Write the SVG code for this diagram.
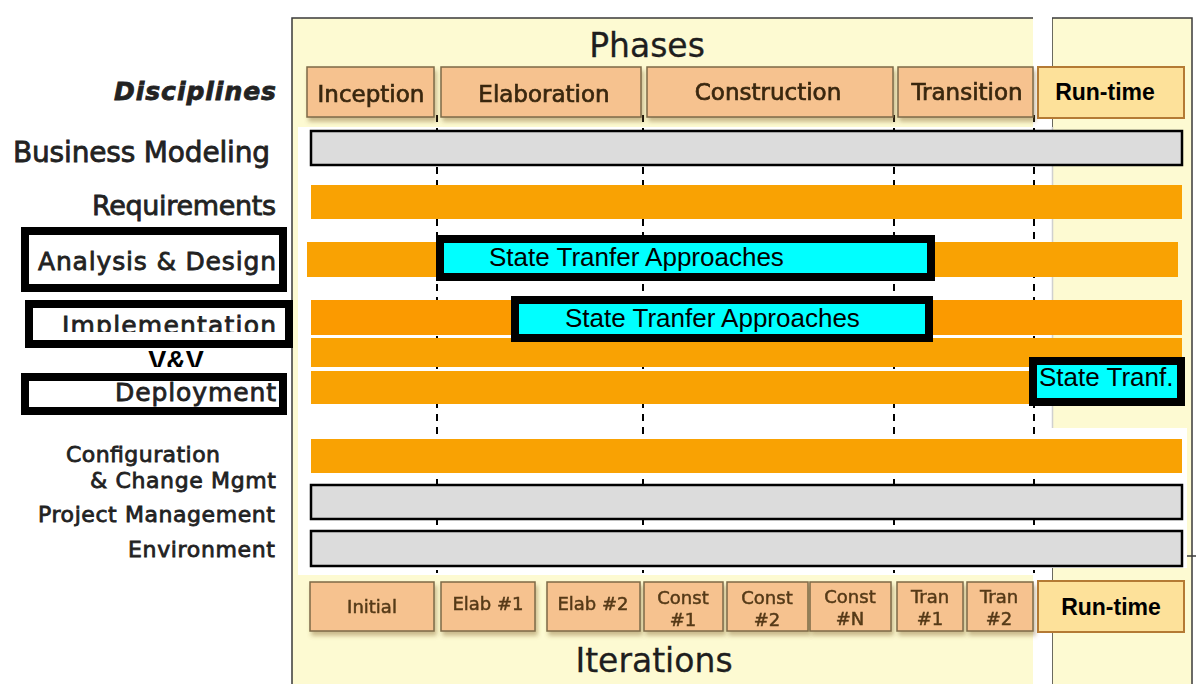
<svg xmlns="http://www.w3.org/2000/svg" width="1196" height="684" viewBox="0 0 1196 684">
  <style>
    .panel { fill: #fdfad2; stroke: #3a3a3a; stroke-width: 1.5; }
    .phase { fill: #f6c28f; stroke: #7d6a48; stroke-width: 1.5; }
    .runtime { fill: #fde19a; stroke: #b47a34; stroke-width: 2; }
    .orange { fill: #f9a203; }
    .grey { fill: #dcdcdc; stroke: #000; stroke-width: 2.5; }
    .state { fill: #00ffff; stroke: #000; stroke-width: 8; }
    .lblbox { fill: #fff; stroke: #000; stroke-width: 8; }
    .disc { font-family: "DejaVu Sans", Verdana, sans-serif; fill: #222; stroke: #222; stroke-width: 0.8; }
    .ph { font-family: "DejaVu Sans", Verdana, sans-serif; font-size: 23px; fill: #3a2810; stroke: #3a2810; stroke-width: 0.7; text-anchor: middle; }
    .it { font-family: "DejaVu Sans", Verdana, sans-serif; font-size: 18px; fill: #553a18; stroke: #553a18; stroke-width: 0.5; text-anchor: middle; }
    .title { font-family: "DejaVu Sans", Verdana, sans-serif; font-size: 33px; fill: #1e1e1e; stroke: #1e1e1e; stroke-width: 0.3; text-anchor: middle; }
    .rt { font-family: "Liberation Sans", Arial, sans-serif; font-weight: bold; font-size: 23px; fill: #000; text-anchor: middle; }
    .st { font-family: "Liberation Sans", Arial, sans-serif; font-size: 26px; fill: #000; }
    .dash { stroke: #000; stroke-width: 2; stroke-dasharray: 7 6; fill: none; }
  </style>
  <defs>
    <filter id="shadow" x="-10%" y="-10%" width="120%" height="140%">
      <feDropShadow dx="2" dy="4" stdDeviation="2" flood-color="#8a6a30" flood-opacity="0.45"/>
    </filter>
    <clipPath id="clipImpl"><rect x="30" y="300" width="262" height="32"/></clipPath>
    <clipPath id="clipVV"><rect x="120" y="348" width="120" height="19"/></clipPath>
  </defs>

  <!-- page background -->
  <rect x="0" y="0" width="1196" height="684" fill="#fff"/>

  <!-- panels -->
  <g id="panels">
    <rect class="panel" x="292" y="18" width="751" height="680"/>
    <rect class="panel" x="1052" y="18" width="140" height="680"/>
    <line x1="1183" y1="556" x2="1196" y2="556" stroke="#3a3a3a" stroke-width="1.5"/>
    <rect x="298" y="127" width="735" height="448" fill="#fff"/>
    <rect x="1033" y="0" width="19" height="684" fill="#fff"/>
    <rect x="1052" y="428" width="135" height="140" fill="#fff"/>
    <line x1="1052.5" y1="127" x2="1052.5" y2="428" stroke="#d0d0d0" stroke-width="1.5"/>
  </g>

  <!-- phase separators -->
  <g id="connectors">
    <line class="dash" x1="437" y1="115" x2="437" y2="573"/>
    <line class="dash" x1="643" y1="115" x2="643" y2="573"/>
    <line class="dash" x1="894" y1="115" x2="894" y2="573"/>
    <line class="dash" x1="1034" y1="115" x2="1034" y2="573"/>
  </g>

  <!-- discipline bars -->
  <g id="bar-business"><rect class="grey" x="311" y="131" width="871" height="34"/></g>
  <g id="bar-requirements"><rect class="orange" x="311" y="185" width="871" height="34"/></g>
  <g id="bar-analysis"><rect class="orange" x="307" y="242" width="871" height="35"/></g>
  <g id="bar-implementation"><rect x="311" y="300" width="871" height="35" fill="#fb9a00"/></g>
  <g id="bar-vv"><rect class="orange" x="311" y="338" width="871" height="29"/></g>
  <g id="bar-deployment"><rect class="orange" x="311" y="371" width="871" height="33"/></g>
  <g id="bar-config"><rect class="orange" x="311" y="439" width="871" height="34"/></g>
  <g id="bar-pm"><rect class="grey" x="311" y="485" width="871" height="34"/></g>
  <g id="bar-env"><rect class="grey" x="311" y="531" width="871" height="35"/></g>

  <!-- state transfer highlights -->
  <g id="state-analysis">
    <rect class="state" x="440" y="239" width="491" height="38"/>
    <text class="st" x="489" y="266">State Tranfer Approaches</text>
  </g>
  <g id="state-implementation">
    <rect class="state" x="515" y="300" width="414" height="38"/>
    <text class="st" x="565" y="327">State Tranfer Approaches</text>
  </g>
  <g id="state-deployment">
    <rect class="state" x="1033" y="361" width="148" height="41"/>
    <text class="st" x="1039" y="386">State Tranf.</text>
  </g>

  <!-- phases -->
  <text class="title" x="647" y="57">Phases</text>
  <g id="phase-inception" filter="url(#shadow)">
    <rect class="phase" x="307" y="67" width="127" height="50"/>
    <text class="ph" x="371" y="102">Inception</text>
  </g>
  <g id="phase-elaboration" filter="url(#shadow)">
    <rect class="phase" x="441" y="67" width="200" height="50"/>
    <text class="ph" x="544" y="102">Elaboration</text>
  </g>
  <g id="phase-construction" filter="url(#shadow)">
    <rect class="phase" x="647" y="67" width="246" height="50"/>
    <text class="ph" x="768" y="100">Construction</text>
  </g>
  <g id="phase-transition" filter="url(#shadow)">
    <rect class="phase" x="898" y="67" width="135" height="50"/>
    <text class="ph" x="967" y="100">Transition</text>
  </g>
  <g id="phase-runtime">
    <rect class="runtime" x="1038" y="67" width="146" height="51"/>
    <text class="rt" x="1105" y="100">Run-time</text>
  </g>

  <!-- iterations -->
  <g id="iter-initial" filter="url(#shadow)">
    <rect class="phase" x="310" y="582" width="124" height="49"/>
    <text class="it" x="372" y="613">Initial</text>
  </g>
  <g id="iter-elab1" filter="url(#shadow)">
    <rect class="phase" x="441" y="582" width="94" height="49"/>
    <text class="it" x="488" y="610">Elab #1</text>
  </g>
  <g id="iter-elab2" filter="url(#shadow)">
    <rect class="phase" x="547" y="582" width="93" height="49"/>
    <text class="it" x="593" y="610">Elab #2</text>
  </g>
  <g id="iter-const1" filter="url(#shadow)">
    <rect class="phase" x="644" y="582" width="79" height="49"/>
    <text class="it" x="683" y="604">Const</text>
    <text class="it" x="683" y="626">#1</text>
  </g>
  <g id="iter-const2" filter="url(#shadow)">
    <rect class="phase" x="727" y="582" width="81" height="49"/>
    <text class="it" x="767" y="604">Const</text>
    <text class="it" x="767" y="626">#2</text>
  </g>
  <g id="iter-constN" filter="url(#shadow)">
    <rect class="phase" x="810" y="582" width="81" height="49"/>
    <text class="it" x="850" y="603">Const</text>
    <text class="it" x="850" y="625">#N</text>
  </g>
  <g id="iter-tran1" filter="url(#shadow)">
    <rect class="phase" x="897" y="582" width="66" height="49"/>
    <text class="it" x="930" y="603">Tran</text>
    <text class="it" x="930" y="625">#1</text>
  </g>
  <g id="iter-tran2" filter="url(#shadow)">
    <rect class="phase" x="967" y="582" width="66" height="49"/>
    <text class="it" x="999" y="603">Tran</text>
    <text class="it" x="999" y="625">#2</text>
  </g>
  <g id="iter-runtime">
    <rect class="runtime" x="1038" y="581" width="146" height="51"/>
    <text class="rt" x="1111" y="615">Run-time</text>
  </g>
  <text class="title" x="654" y="672">Iterations</text>

  <!-- discipline labels -->
  <g id="label-disciplines">
    <text class="disc" x="276" y="100" font-size="25" font-weight="bold" font-style="italic" text-anchor="end" textLength="162">Disciplines</text>
  </g>
  <g id="label-business">
    <text class="disc" x="270" y="162" font-size="28" text-anchor="end" textLength="257">Business Modeling</text>
  </g>
  <g id="label-requirements">
    <text class="disc" x="276" y="215" font-size="27" text-anchor="end" textLength="184">Requirements</text>
  </g>
  <g id="label-analysis">
    <rect class="lblbox" x="25" y="231" width="258" height="57"/>
    <text class="disc" x="276" y="270" font-size="25" text-anchor="end" textLength="238">Analysis &amp; Design</text>
  </g>
  <g id="label-implementation">
    <rect class="lblbox" x="29" y="304" width="260" height="40"/>
    <text class="disc" x="276" y="334" font-size="25" text-anchor="end" textLength="214" clip-path="url(#clipImpl)">Implementation</text>
  </g>
  <g id="label-vv">
    <text x="176" y="370" font-family="Liberation Sans, Arial, sans-serif" font-weight="bold" font-size="27" text-anchor="middle" clip-path="url(#clipVV)">V&amp;V</text>
  </g>
  <g id="label-deployment">
    <rect class="lblbox" x="25" y="377" width="258" height="34"/>
    <text class="disc" x="276" y="401" font-size="25" text-anchor="end" textLength="161">Deployment</text>
  </g>
  <g id="label-config">
    <text class="disc" x="66" y="462" font-size="22" textLength="154">Configuration</text>
    <text class="disc" x="276" y="488" font-size="22" text-anchor="end" textLength="186">&amp; Change Mgmt</text>
  </g>
  <g id="label-pm">
    <text class="disc" x="275" y="522" font-size="22" text-anchor="end" textLength="237">Project Management</text>
  </g>
  <g id="label-env">
    <text class="disc" x="275" y="557" font-size="22" text-anchor="end" textLength="147">Environment</text>
  </g>
</svg>
